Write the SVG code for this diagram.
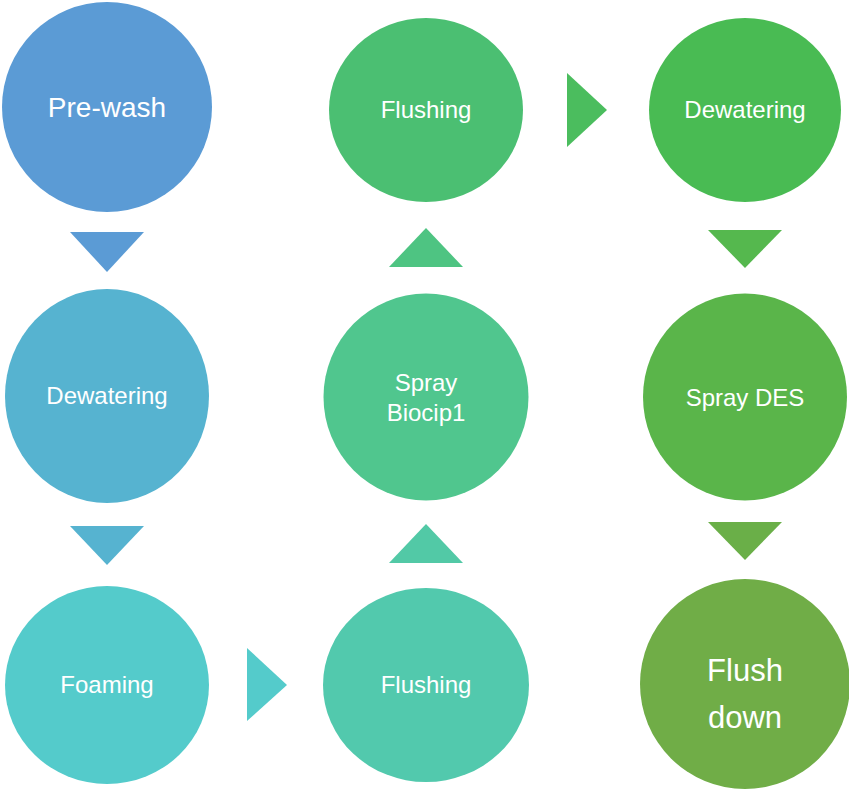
<svg xmlns="http://www.w3.org/2000/svg" width="849" height="789" viewBox="0 0 849 789">
  <style>
    .label { font-family: "Liberation Sans", Arial, sans-serif; fill: #ffffff; text-anchor: middle; font-size: 24px; }
    .big { font-size: 28px; }
    .huge { font-size: 31px; }
  </style>
  <rect width="849" height="789" fill="#ffffff"/>

  <!-- connectors: triangular flow arrows -->
  <g id="connectors">
    <polygon points="70,232 144,232 107,272" fill="#5B9BD5"/>
    <polygon points="70,526 144,526 107,565" fill="#56B3D0"/>
    <polygon points="247,648 287,685 247,721" fill="#54CBCB"/>
    <polygon points="389,563 463,563 426,524" fill="#52C9A6"/>
    <polygon points="389,267 463,267 426,228" fill="#4EC482"/>
    <polygon points="567,73 607,110 567,147" fill="#4BBD5E"/>
    <polygon points="708,230 782,230 745,268" fill="#55B84E"/>
    <polygon points="708,522 782,522 745,560" fill="#6AAF48"/>
  </g>

  <g id="prewash">
    <ellipse cx="107" cy="107" rx="105" ry="105" fill="#5B9BD5"/>
    <text class="label big" x="107" y="117">Pre-wash</text>
  </g>
  <g id="dewatering1">
    <ellipse cx="107" cy="396" rx="102" ry="107" fill="#56B3D0"/>
    <text class="label" x="107" y="404">Dewatering</text>
  </g>
  <g id="foaming">
    <ellipse cx="107" cy="685" rx="102" ry="99" fill="#54CBCB"/>
    <text class="label" x="107" y="693">Foaming</text>
  </g>
  <g id="flushing1">
    <ellipse cx="426" cy="685" rx="103" ry="97" fill="#52C9AD"/>
    <text class="label" x="426" y="693">Flushing</text>
  </g>
  <g id="spray-biocip">
    <ellipse cx="426" cy="397" rx="102.5" ry="103.5" fill="#50C68E"/>
    <text class="label" x="426" y="391">Spray</text>
    <text class="label" x="426" y="421">Biocip1</text>
  </g>
  <g id="flushing2">
    <ellipse cx="426" cy="110" rx="97" ry="92" fill="#4BBF72"/>
    <text class="label" x="426" y="118">Flushing</text>
  </g>
  <g id="dewatering2">
    <ellipse cx="745" cy="110" rx="96" ry="92" fill="#49BB53"/>
    <text class="label" x="745" y="118">Dewatering</text>
  </g>
  <g id="spray-des">
    <ellipse cx="745" cy="397" rx="102" ry="103.5" fill="#5AB54A"/>
    <text class="label" x="745" y="406">Spray DES</text>
  </g>
  <g id="flush-down">
    <ellipse cx="745" cy="684" rx="105" ry="105" fill="#70AD47"/>
    <text class="label huge" x="745" y="681">Flush</text>
    <text class="label huge" x="745" y="728">down</text>
  </g>
</svg>
